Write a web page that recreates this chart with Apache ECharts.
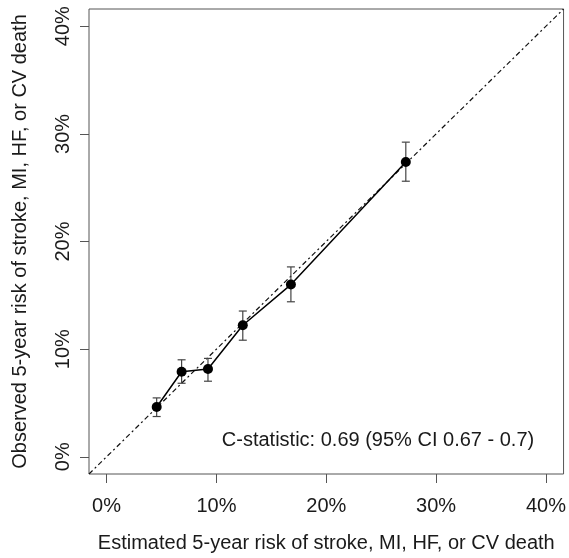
<!DOCTYPE html>
<html>
<head>
<meta charset="utf-8">
<script src="https://cdn.jsdelivr.net/npm/echarts@6/dist/echarts.min.js"></script>
<style>
  html, body { margin: 0; padding: 0; background: #fff; }
  #chart { width: 569px; height: 558px; }
</style>
</head>
<body>
<div id="chart"></div>
<script>
// calibration points (percent)
const estimated = [4.56, 6.83, 9.23, 12.40, 16.78, 27.24];
const observed = [4.62, 7.90, 8.16, 12.22, 16.0, 27.39];
const lower = [3.74, 6.83, 7.02, 10.83, 14.40, 25.60];
const upper = [5.47, 9.01, 9.14, 13.54, 17.64, 29.23];
const tickValues = [0, 10, 20, 30, 40];
const axisRange = [-1.6, 41.6];
const statText = 'C-statistic: 0.69 (95% CI 0.67 - 0.7)';

const font = 'Liberation Sans, Arial, sans-serif';
const textColor = '#1a1a1a';
const lineGray = '#555';

const points = estimated.map((x, i) => [x, observed[i]]);
const bars = estimated.map((x, i) => [x, lower[i], upper[i]]);

const chart = echarts.init(document.getElementById('chart'));

const axisCommon = {
  type: 'value',
  min: axisRange[0],
  max: axisRange[1],
  axisLine: { show: false, onZero: false },
  splitLine: { show: false },
  axisTick: {
    show: true,
    inside: false,
    customValues: tickValues,
    length: 9,
    lineStyle: { color: lineGray, width: 1 }
  },
  nameLocation: 'middle',
  nameTextStyle: { fontSize: 20, color: textColor, fontFamily: font }
};

chart.setOption({
  animation: false,
  grid: {
    left: 89, right: 4, top: 9, bottom: 82,
    show: true, borderColor: lineGray, borderWidth: 1, backgroundColor: '#fff'
  },
  xAxis: Object.assign({}, axisCommon, {
    name: 'Estimated 5-year risk of stroke, MI, HF, or CV death',
    nameGap: 59,
    axisLabel: {
      customValues: tickValues,
      formatter: v => v + '%',
      fontSize: 20, color: textColor, fontFamily: font, margin: 22
    }
  }),
  yAxis: Object.assign({}, axisCommon, {
    name: 'Observed 5-year risk of stroke, MI, HF, or CV death',
    nameGap: 59,
    axisLabel: {
      customValues: tickValues,
      formatter: v => v + '%',
      rotate: 90,
      fontSize: 20, color: textColor, fontFamily: font, margin: 16
    }
  }),
  graphic: [{
    type: 'text',
    x: 378, y: 440,
    style: {
      text: statText, fontSize: 20, fill: textColor, fontFamily: font,
      textAlign: 'center', textVerticalAlign: 'middle'
    }
  }],
  series: [
    {
      type: 'line',
      data: [[axisRange[0], axisRange[0]], [axisRange[1], axisRange[1]]],
      symbol: 'none',
      lineStyle: { color: '#111', width: 1.2, type: [5, 3, 2, 3] },
      z: 1
    },
    {
      type: 'custom',
      data: bars,
      renderItem: (params, api) => {
        const x = api.value(0);
        const lo = api.coord([x, api.value(1)]);
        const hi = api.coord([x, api.value(2)]);
        const cap = 4;
        const style = { stroke: '#444', lineWidth: 1.2 };
        return {
          type: 'group',
          children: [
            { type: 'line', shape: { x1: lo[0], y1: lo[1], x2: hi[0], y2: hi[1] }, style },
            { type: 'line', shape: { x1: lo[0] - cap, y1: lo[1], x2: lo[0] + cap, y2: lo[1] }, style },
            { type: 'line', shape: { x1: hi[0] - cap, y1: hi[1], x2: hi[0] + cap, y2: hi[1] }, style }
          ]
        };
      },
      z: 2
    },
    {
      type: 'line',
      data: points,
      symbol: 'circle',
      symbolSize: 10,
      itemStyle: { color: '#000' },
      lineStyle: { color: '#000', width: 1.5 },
      z: 3
    }
  ]
});
</script>
</body>
</html>
